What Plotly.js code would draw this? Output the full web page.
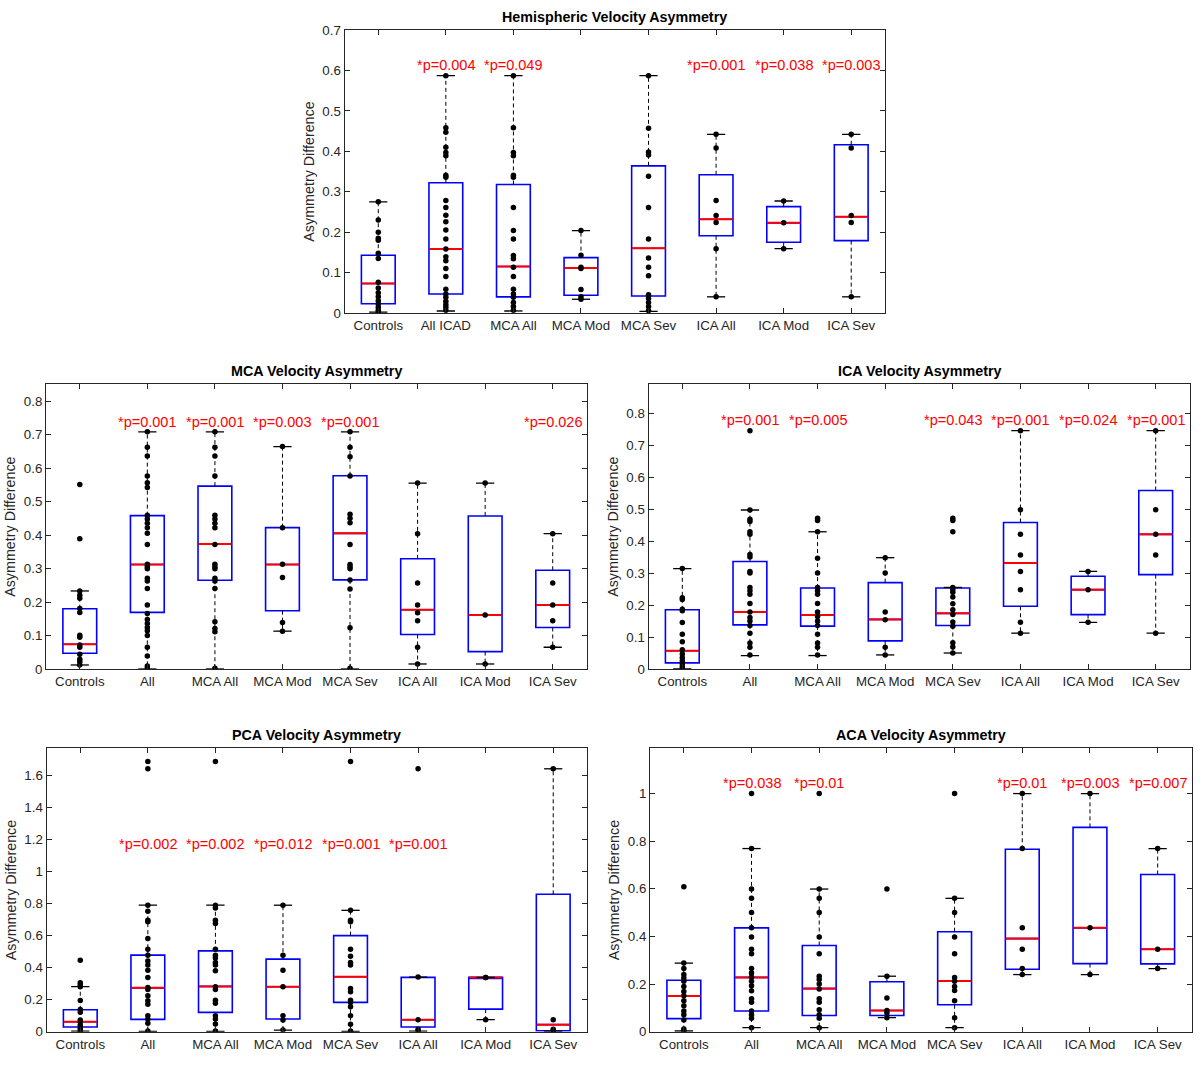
<!DOCTYPE html>
<html><head><meta charset="utf-8">
<script src="https://cdn.plot.ly/plotly-3.0.1.min.js"></script>
<style>html,body{margin:0;padding:0;background:#fff}</style>
</head><body><div id="chart" style="width:1204px;height:1070px"></div>
<script>
// ---------------- DATA ----------------
const hemiCategories = ["Controls","All ICAD","MCA All","MCA Mod","MCA Sev","ICA All","ICA Mod","ICA Sev"];
const arteryCategories = ["Controls","All","MCA All","MCA Mod","MCA Sev","ICA All","ICA Mod","ICA Sev"];

// Hemispheric Velocity Asymmetry
const hemiPoints = [
  [0.275,0.23,0.20,0.185,0.18,0.148,0.135,0.076,0.062,0.05,0.04,0.03,0.022,0.014,0.007,0.002],
  [0.587,0.458,0.447,0.41,0.397,0.389,0.341,0.336,0.278,0.261,0.242,0.226,0.205,0.183,0.158,0.139,0.129,0.11,0.09,0.059,0.047,0.039,0.029,0.021,0.014,0.007],
  [0.587,0.458,0.397,0.389,0.341,0.336,0.261,0.204,0.183,0.142,0.134,0.113,0.09,0.059,0.047,0.039,0.026,0.016,0.007],
  [0.204,0.143,0.113,0.11,0.058,0.04,0.034],
  [0.587,0.457,0.398,0.391,0.338,0.261,0.183,0.136,0.113,0.092,0.045,0.036,0.026,0.016,0.006],
  [0.442,0.408,0.278,0.241,0.224,0.159,0.04],
  [0.277,0.223,0.159],
  [0.442,0.408,0.241,0.224,0.04]
];
const hemiQ1 = [0.023,0.047,0.040,0.044,0.042,0.191,0.175,0.179];
const hemiMedian = [0.073,0.158,0.115,0.111,0.160,0.232,0.223,0.238];
const hemiQ3 = [0.143,0.322,0.318,0.137,0.364,0.342,0.263,0.416];
const hemiLowerWhisker = [0.002,0.005,0.005,0.034,0.004,0.04,0.159,0.04];
const hemiUpperWhisker = [0.275,0.587,0.587,0.204,0.587,0.442,0.277,0.442];
const hemiPValues = ["","*p=0.004","*p=0.049","","","*p=0.001","*p=0.038","*p=0.003"];

// MCA Velocity Asymmetry
const mcaPoints = [
  [0.551,0.389,0.233,0.22,0.211,0.181,0.169,0.101,0.095,0.072,0.065,0.044,0.029,0.022,0.012],
  [0.708,0.662,0.636,0.576,0.556,0.542,0.459,0.448,0.435,0.422,0.405,0.372,0.313,0.305,0.299,0.271,0.263,0.24,0.191,0.166,0.148,0.136,0.124,0.114,0.1,0.065,0.039,0.009,0.002],
  [0.708,0.662,0.636,0.576,0.459,0.448,0.435,0.422,0.372,0.313,0.305,0.299,0.271,0.263,0.24,0.141,0.121,0.111,0.002],
  [0.664,0.422,0.313,0.273,0.139,0.113],
  [0.708,0.662,0.634,0.576,0.462,0.45,0.437,0.372,0.312,0.305,0.299,0.266,0.239,0.123,0.002],
  [0.555,0.404,0.257,0.191,0.168,0.144,0.065,0.015],
  [0.555,0.161,0.015],
  [0.404,0.257,0.191,0.144,0.065]
];
const mcaQ1 = [0.047,0.169,0.265,0.174,0.266,0.103,0.052,0.124];
const mcaMedian = [0.074,0.312,0.373,0.312,0.405,0.177,0.161,0.191];
const mcaQ3 = [0.180,0.458,0.546,0.422,0.577,0.329,0.457,0.295];
const mcaLowerWhisker = [0.012,0.0,0.0,0.113,0.0,0.015,0.015,0.065];
const mcaUpperWhisker = [0.233,0.708,0.708,0.664,0.708,0.555,0.555,0.404];
const mcaPValues = ["","*p=0.001","*p=0.001","*p=0.003","*p=0.001","","","*p=0.026"];

// ICA Velocity Asymmetry
const icaPoints = [
  [0.314,0.223,0.217,0.187,0.182,0.145,0.109,0.085,0.06,0.047,0.035,0.025,0.016,0.007,0.001],
  [0.745,0.497,0.468,0.461,0.429,0.421,0.358,0.35,0.305,0.3,0.255,0.245,0.234,0.205,0.178,0.161,0.15,0.136,0.112,0.081,0.068,0.044],
  [0.471,0.464,0.429,0.346,0.3,0.255,0.245,0.234,0.205,0.178,0.164,0.15,0.136,0.109,0.081,0.068,0.044],
  [0.348,0.3,0.178,0.154,0.068,0.044],
  [0.471,0.464,0.429,0.255,0.248,0.24,0.225,0.204,0.185,0.17,0.147,0.134,0.082,0.069,0.05],
  [0.745,0.498,0.421,0.356,0.305,0.248,0.146,0.112],
  [0.305,0.248,0.146],
  [0.745,0.498,0.421,0.356,0.112]
];
const icaQ1 = [0.019,0.138,0.134,0.088,0.136,0.196,0.170,0.295];
const icaMedian = [0.057,0.178,0.169,0.155,0.174,0.331,0.248,0.421];
const icaQ3 = [0.185,0.336,0.253,0.270,0.253,0.458,0.290,0.558];
const icaLowerWhisker = [0.0,0.042,0.042,0.044,0.05,0.112,0.146,0.112];
const icaUpperWhisker = [0.314,0.497,0.429,0.348,0.255,0.745,0.305,0.745];
const icaPValues = ["","*p=0.001","*p=0.005","","*p=0.043","*p=0.001","*p=0.024","*p=0.001"];

// PCA Velocity Asymmetry
const pcaPoints = [
  [0.447,0.305,0.291,0.281,0.195,0.139,0.121,0.073,0.062,0.042,0.029,0.017,0.004],
  [1.687,1.642,0.79,0.752,0.696,0.686,0.582,0.515,0.478,0.441,0.416,0.384,0.339,0.276,0.264,0.224,0.193,0.172,0.1,0.079,0.052,0.004],
  [1.687,0.79,0.773,0.696,0.675,0.515,0.478,0.461,0.432,0.416,0.38,0.281,0.264,0.197,0.177,0.1,0.079,0.048,0.004],
  [0.79,0.478,0.384,0.281,0.1,0.073,0.01],
  [1.687,0.758,0.696,0.686,0.515,0.472,0.432,0.416,0.27,0.249,0.197,0.183,0.156,0.1,0.046,0.004],
  [1.642,0.341,0.075,0.015,0.004],
  [0.339,0.339,0.075],
  [1.642,0.075,0.015,0.004]
];
const pcaQ1 = [0.029,0.077,0.121,0.079,0.183,0.029,0.141,0.006];
const pcaMedian = [0.062,0.274,0.283,0.281,0.343,0.075,0.339,0.044];
const pcaQ3 = [0.137,0.478,0.505,0.453,0.600,0.339,0.339,0.858];
const pcaLowerWhisker = [0.004,0.002,0.002,0.01,0.002,0.004,0.075,0.004];
const pcaUpperWhisker = [0.281,0.79,0.79,0.79,0.758,0.341,0.339,1.642];
const pcaPValues = ["","*p=0.002","*p=0.002","*p=0.012","*p=0.001","*p=0.001","",""];

// ACA Velocity Asymmetry
const acaPoints = [
  [0.609,0.288,0.265,0.24,0.226,0.212,0.19,0.169,0.151,0.13,0.109,0.087,0.071,0.049,0.011,0.003],
  [1.0,0.769,0.599,0.56,0.501,0.437,0.398,0.346,0.327,0.265,0.247,0.23,0.212,0.193,0.172,0.138,0.124,0.087,0.071,0.056,0.017],
  [1.0,0.599,0.56,0.501,0.398,0.327,0.233,0.219,0.2,0.179,0.138,0.124,0.092,0.071,0.056,0.017],
  [0.599,0.233,0.141,0.089,0.078,0.059],
  [1.0,0.56,0.501,0.398,0.327,0.228,0.212,0.19,0.173,0.13,0.059,0.017],
  [1.0,0.769,0.436,0.346,0.265,0.24],
  [1.0,0.436,0.24],
  [0.769,0.346,0.265]
];
const acaQ1 = [0.055,0.087,0.068,0.068,0.113,0.262,0.286,0.285];
const acaMedian = [0.150,0.228,0.181,0.089,0.213,0.391,0.436,0.346];
const acaQ3 = [0.216,0.436,0.362,0.210,0.420,0.766,0.858,0.660];
const acaLowerWhisker = [0.003,0.017,0.017,0.059,0.017,0.24,0.24,0.265];
const acaUpperWhisker = [0.288,0.769,0.599,0.233,0.56,1.0,1.0,0.769];
const acaPValues = ["","*p=0.038","*p=0.01","","","*p=0.01","*p=0.003","*p=0.007"];

// ---------------- LAYOUT / DRAWING ----------------
const W = 1204, H = 1070;
const FONT = "Liberation Sans, Arial, Helvetica, sans-serif";
const panels = [
  {title:"Hemispheric Velocity Asymmetry", cats:hemiCategories, points:hemiPoints, q1:hemiQ1, med:hemiMedian, q3:hemiQ3, lo:hemiLowerWhisker, hi:hemiUpperWhisker, p:hemiPValues,
   yRange:[0,0.7], dtick:0.1, pLevel:0.613, px:[344.5,885], py:[30,313]},
  {title:"MCA Velocity Asymmetry", cats:arteryCategories, points:mcaPoints, q1:mcaQ1, med:mcaMedian, q3:mcaQ3, lo:mcaLowerWhisker, hi:mcaUpperWhisker, p:mcaPValues,
   yRange:[0,0.85], dtick:0.1, pLevel:0.738, px:[46,586.5], py:[384.3,669]},
  {title:"ICA Velocity Asymmetry", cats:arteryCategories, points:icaPoints, q1:icaQ1, med:icaMedian, q3:icaQ3, lo:icaLowerWhisker, hi:icaUpperWhisker, p:icaPValues,
   yRange:[0,0.89], dtick:0.1, pLevel:0.777, px:[648.5,1189.5], py:[384.3,669]},
  {title:"PCA Velocity Asymmetry", cats:arteryCategories, points:pcaPoints, q1:pcaQ1, med:pcaMedian, q3:pcaQ3, lo:pcaLowerWhisker, hi:pcaUpperWhisker, p:pcaPValues,
   yRange:[0,1.77], dtick:0.2, pLevel:1.174, px:[46.5,587], py:[748.3,1031.7]},
  {title:"ACA Velocity Asymmetry", cats:arteryCategories, points:acaPoints, q1:acaQ1, med:acaMedian, q3:acaQ3, lo:acaLowerWhisker, hi:acaUpperWhisker, p:acaPValues,
   yRange:[0,1.19], dtick:0.2, pLevel:1.044, px:[650,1191.5], py:[748.3,1031.7]}
];

const traces = [];
const annotations = [];
const layout = {
  width:W, height:H, margin:{l:0,r:0,t:0,b:0}, paper_bgcolor:'#fff', plot_bgcolor:'#fff',
  showlegend:false, hovermode:false, font:{family:FONT, color:'#262626'}
};

panels.forEach((P, k) => {
  const n = k === 0 ? '' : String(k+1);
  const xa = 'x'+n, ya = 'y'+n;
  const pos = P.cats.map((_, i) => i+1);
  const common = {xaxis:xa, yaxis:ya, showlegend:false, hoverinfo:'skip'};

  // dashed whiskers
  const wx = [], wy = [];
  pos.forEach((x, i) => { wx.push(x, x, null, x, x, null); wy.push(P.q3[i], P.hi[i], null, P.q1[i], P.lo[i], null); });
  traces.push(Object.assign({type:'scatter', mode:'lines', x:wx, y:wy, line:{color:'#000', width:1, dash:'4px,3px'}}, common));

  // boxes
  traces.push(Object.assign({type:'box', x:pos, q1:P.q1, median:P.med, q3:P.q3, lowerfence:P.q1, upperfence:P.q3,
    width:0.5, whiskerwidth:0, boxpoints:false, line:{color:'#0000ff', width:1.6}, fillcolor:'rgba(0,0,0,0)'}, common));

  // red medians
  const mx = [], my = [];
  pos.forEach((x, i) => { mx.push(x-0.245, x+0.245, null); my.push(P.med[i], P.med[i], null); });
  traces.push(Object.assign({type:'scatter', mode:'lines', x:mx, y:my, line:{color:'#ff0000', width:2}}, common));

  // whisker caps
  const cx = [], cy = [];
  pos.forEach((x, i) => { [P.lo[i], P.hi[i]].forEach(v => { cx.push(x-0.135, x+0.135, null); cy.push(v, v, null); }); });
  traces.push(Object.assign({type:'scatter', mode:'lines', x:cx, y:cy, line:{color:'#000', width:1.3}}, common));

  // individual points
  const ptx = [], pty = [];
  P.points.forEach((arr, i) => arr.forEach(v => { ptx.push(i+1); pty.push(v); }));
  traces.push(Object.assign({type:'scatter', mode:'markers', x:ptx, y:pty, marker:{color:'#000', size:5.5}}, common));

  // p-value labels
  P.p.forEach((t, i) => {
    if (t) annotations.push({xref:xa, yref:ya, x:i+1, y:P.pLevel, text:t, showarrow:false, yanchor:'middle', xanchor:'center',
      font:{family:FONT, size:14.5, color:'#ff0000'}});
  });

  // panel title
  annotations.push({xref:xa+' domain', yref:ya+' domain', x:0.5, y:1, yanchor:'bottom', xanchor:'center', yshift:3,
    text:'<b>'+P.title+'</b>', showarrow:false, font:{family:FONT, size:14.3, color:'#000'}});

  layout['xaxis'+n] = {
    domain:[P.px[0]/W, P.px[1]/W], anchor:ya, range:[0.5,8.5], tickmode:'array', tickvals:pos, ticktext:P.cats,
    ticks:'inside', ticklen:5, tickcolor:'#262626', mirror:'ticks', showline:true, linecolor:'#262626', linewidth:1,
    showgrid:false, zeroline:false, tickfont:{family:FONT, size:13.3, color:'#262626'}, fixedrange:true
  };
  layout['yaxis'+n] = {
    domain:[1-P.py[1]/H, 1-P.py[0]/H], anchor:xa, range:P.yRange, tick0:0, dtick:P.dtick,
    ticks:'inside', ticklen:5, tickcolor:'#262626', mirror:'ticks', showline:true, linecolor:'#262626', linewidth:1,
    showgrid:false, zeroline:false, tickfont:{family:FONT, size:13.3, color:'#262626'}, fixedrange:true,
    title:{text:'Asymmetry Difference', standoff:4, font:{family:FONT, size:14.3, color:'#262626'}}
  };
});
layout.annotations = annotations;

Plotly.newPlot('chart', traces, layout, {staticPlot:true, displayModeBar:false});
</script>
</body></html>
